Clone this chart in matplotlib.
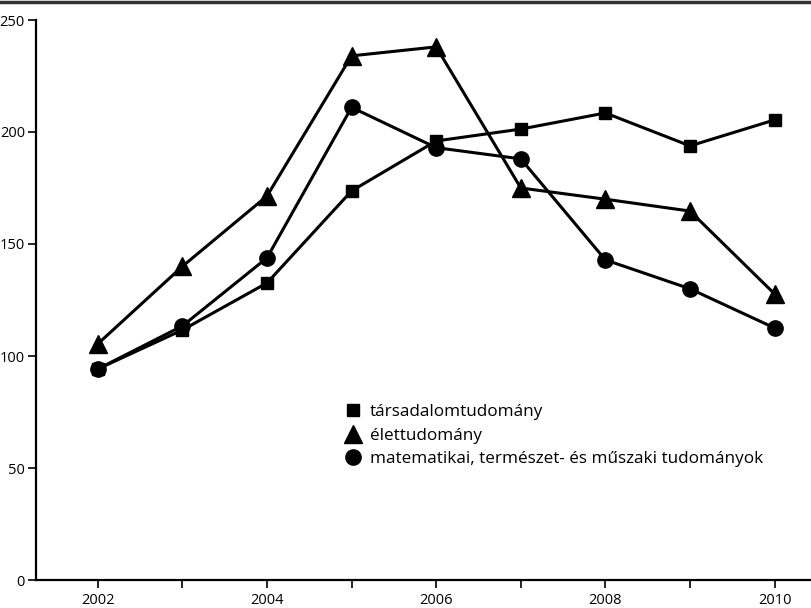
import matplotlib
matplotlib.use("Agg")
import matplotlib.pyplot as plt
from matplotlib.lines import Line2D

plt.rcParams['font.family'] = ['Open Sans', 'DejaVu Sans']

years = [2002, 2003, 2004, 2005, 2006, 2007, 2008, 2009, 2010]
tarsadalom = [94.2, 111.6, 132.6, 173.7, 196.0, 201.3, 208.5, 193.8, 205.4]
elet = [105.4, 140.0, 171.4, 234.0, 238.0, 175.0, 170.0, 164.7, 127.7]
matek = [94.2, 113.4, 143.8, 211.0, 193.0, 188.0, 142.9, 130.0, 112.5]

labels = ["társadalomtudomány", "élettudomány",
          "matematikai, természet- és műszaki tudományok"]

fig = plt.figure(figsize=(8.11, 6.08), dpi=100)
ax = fig.add_axes([36 / 811, 28 / 608, 1 - 36 / 811, 560 / 608])

ax.plot(years, tarsadalom, color='black', lw=2.2, marker='s', ms=9, label=labels[0])
ax.plot(years, elet, color='black', lw=2.2, marker='^', ms=12.5, label=labels[1])
ax.plot(years, matek, color='black', lw=2.2, marker='o', ms=11, label=labels[2])

ax.set_xlim(2001.27, 2010.43)
ax.set_ylim(0, 250)
ax.set_xticks([2002, 2004, 2006, 2008, 2010])
ax.set_xticks([2003, 2005, 2007, 2009], minor=True)
ax.set_yticks([0, 50, 100, 150, 200, 250])

for s in ['top', 'right']:
    ax.spines[s].set_visible(False)
for s in ['left', 'bottom']:
    ax.spines[s].set_linewidth(1.6)

ax.tick_params(axis='both', which='major', direction='out', length=6, width=1.2, labelsize=10.5)
ax.tick_params(axis='x', which='minor', direction='out', length=6, width=1.2)
ax.tick_params(axis='y', pad=2)

ax.legend(loc='upper left', bbox_to_anchor=(338 / 811, 1 - 397 / 608),
          bbox_transform=fig.transFigure, frameon=False, fontsize=12.3,
          handlelength=1.0, handletextpad=0.45, labelspacing=0.45, borderaxespad=0)
for h in ax.get_legend().legend_handles:
    h.set_linestyle('none')

# dark rule across the top of the figure
fig.add_artist(Line2D([0, 1], [0.997, 0.997], transform=fig.transFigure,
                      color='#333333', lw=2.5))

fig.savefig("out.png", dpi=100)
